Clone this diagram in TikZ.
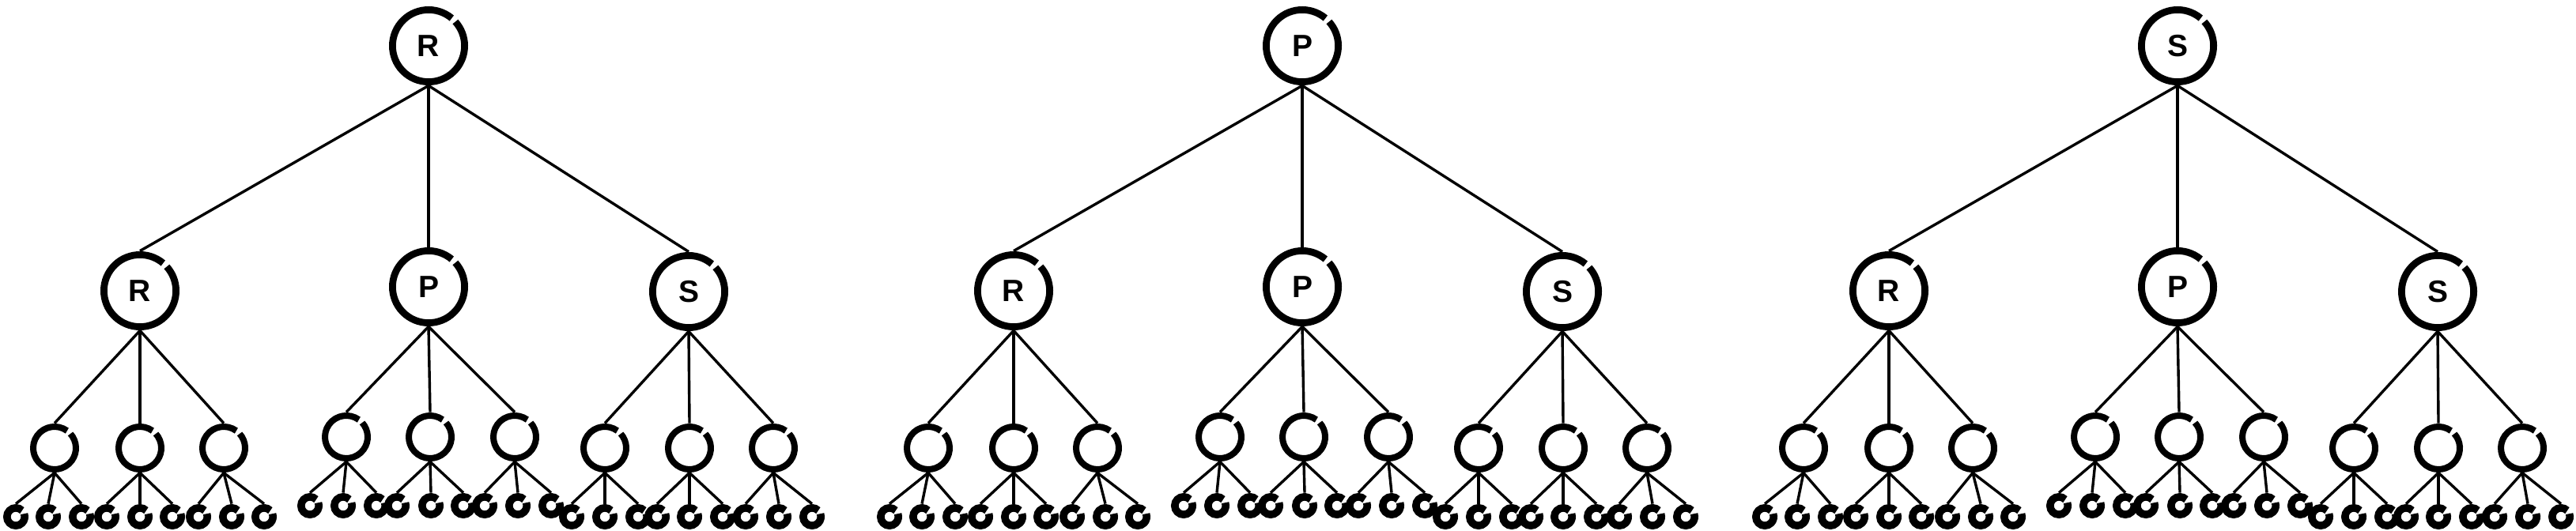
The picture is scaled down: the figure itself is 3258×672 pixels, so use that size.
\documentclass[tikz,border=0pt]{standalone}
\usepackage{fontspec}
\setmainfont{Liberation Sans}
\tikzset{
  ring/.style={circle, inner sep=0pt, minimum size=#1, font=\fontsize{19.5}{20}\selectfont\bfseries},
  edge/.style={line width=1.7pt, black},
}
% #1 node, #2 radius, #3 stroke width, #4 start angle, #5 span
\newcommand\brushring[5]{%
  \draw[line width=#3, line cap=butt] (#1.center) ++(#4:#2) arc[start angle=#4, end angle=#4+#5, radius=#2];
}
\newcommand\drawtree[3]{%
  \node[ring=50pt] (#2r) at (#1+542,58) {#3};
  \brushring{#2r}{22.8pt}{4.4pt}{50}{352}
  \foreach \c/\cx/\cy/\lab/\ty/\tx/\ly/\lx in {
    a/177/368/R/567/{69,177,283}/654/{{20,61,103},{135,177,218},{251,293,334}},
    b/542/363/P/553/{438,544,651}/640/{{392,434,476},{502,545,586},{613,655,697}},
    c/871/369/S/567/{765,872,978}/654/{{723,765,807},{831,872,914},{943,985,1027}}}{
    \node[ring=50pt] (#2\c) at (#1+\cx,\cy) {\lab};
    \brushring{#2\c}{22.8pt}{4.4pt}{50}{352}
    \draw[edge] (#2r.south) -- (#2\c.north);
    \foreach \x [count=\j] in \tx {
      \node[ring=31pt] (#2\c\j) at (#1+\x,\ty) {};
      \brushring{#2\c\j}{13.5pt}{4pt}{54}{348}
      \draw[edge] (#2\c.south) -- (#2\c\j.north);
    }
    \foreach \grp [count=\j] in \lx {
      \foreach \z [count=\k] in \grp {
        \node[ring=16pt] (#2\c\j-\k) at (#1+\z,\ly) {};
        \brushring{#2\c\j-\k}{5.6pt}{4.8pt}{45}{335}
        \draw[edge] (#2\c\j.south) -- (#2\c\j-\k.north);
      }
    }
  }
}
\begin{document}
\begin{tikzpicture}[x=0.5pt, y=-0.5pt]
  \useasboundingbox (0,0) rectangle (3258,672);
  \drawtree{0}{A}{R}
  \drawtree{1105}{B}{P}
  \drawtree{2212}{C}{S}
\end{tikzpicture}
\end{document}
